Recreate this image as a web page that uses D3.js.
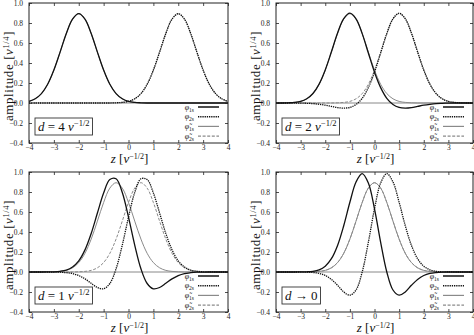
<!DOCTYPE html>
<html>
<head>
<meta charset="utf-8">
<script src="https://cdn.jsdelivr.net/npm/d3@7"></script>
<style>
  html, body { margin: 0; padding: 0; background: #fff; }
  svg { display: block; }
  text { font-family: "Liberation Serif", "DejaVu Serif", serif; fill: #111; }
</style>
</head>
<body>
<svg id="chart" width="474" height="335"></svg>
<script>
// Sample positions z [nu^-1/2]
const zGrid = [-4,-3.75,-3.5,-3.25,-3,-2.75,-2.5,-2.25,-2,-1.75,-1.5,-1.25,-1,-0.75,-0.5,-0.25,
               0,0.25,0.5,0.75,1,1.25,1.5,1.75,2,2.25,2.5,2.75,3,3.25,3.5,3.75,4];

const xTicks = [-4,-3,-2,-1,0,1,2,3,4];
const yTicks = [-0.4,-0.2,0,0.2,0.4,0.6,0.8,1.0];

// d = 4
const phi1s_d4  = [0.016,0.042,0.094,0.187,0.329,0.509,0.695,0.839,0.893,0.839,0.695,0.509,0.329,0.187,0.094,0.042,0.016,0.006,0.002,0,0,0,0,0,0,0,0,0,0,0,0,0,0];
const phi2s_d4  = [0,0,0,0,0,0,0,0,0,0,0,0,0,0,0.002,0.006,0.016,0.042,0.094,0.187,0.329,0.509,0.695,0.839,0.893,0.839,0.695,0.509,0.329,0.187,0.094,0.042,0.016];
const tphi1s_d4 = [0.016,0.042,0.094,0.187,0.329,0.509,0.695,0.839,0.893,0.839,0.695,0.509,0.329,0.187,0.094,0.042,0.016,0.006,0.002,0,0,0,0,0,0,0,0,0,0,0,0,0,0];
const tphi2s_d4 = [0,0,0,0,0,0,0,0,0,0,0,0,0,0,0.002,0.006,0.016,0.042,0.094,0.187,0.329,0.509,0.695,0.839,0.893,0.839,0.695,0.509,0.329,0.187,0.094,0.042,0.016];

// d = 2
const phi1s_d2  = [0,0,0.002,0.006,0.016,0.042,0.095,0.189,0.331,0.512,0.700,0.844,0.898,0.842,0.694,0.500,0.308,0.154,0.047,-0.015,-0.044,-0.051,-0.046,-0.034,-0.022,-0.013,-0.006,-0.003,-0.001,0,0,0,0];
const phi2s_d2  = [0,0,0,0,-0.001,-0.003,-0.006,-0.013,-0.022,-0.034,-0.046,-0.051,-0.044,-0.015,0.047,0.154,0.308,0.500,0.694,0.842,0.898,0.844,0.700,0.512,0.331,0.189,0.095,0.042,0.016,0.006,0.002,0,0];
const tphi1s_d2 = [0,0,0.002,0.006,0.016,0.042,0.094,0.187,0.329,0.509,0.695,0.839,0.893,0.839,0.695,0.509,0.329,0.187,0.094,0.042,0.016,0.006,0.002,0,0,0,0,0,0,0,0,0,0];
const tphi2s_d2 = [0,0,0,0,0,0,0,0,0,0,0.002,0.006,0.016,0.042,0.094,0.187,0.329,0.509,0.695,0.839,0.893,0.839,0.695,0.509,0.329,0.187,0.094,0.042,0.016,0.006,0.002,0,0];

// d = 1
const phi1s_d1  = [0,0,0,0.001,0.002,0.007,0.019,0.050,0.111,0.221,0.385,0.590,0.790,0.924,0.932,0.795,0.548,0.269,0.032,-0.115,-0.168,-0.155,-0.113,-0.069,-0.036,-0.016,-0.007,-0.002,-0.001,0,0,0,0];
const phi2s_d1  = [0,0,0,0,-0.001,-0.002,-0.007,-0.016,-0.036,-0.069,-0.113,-0.155,-0.168,-0.115,0.032,0.269,0.548,0.795,0.932,0.924,0.790,0.590,0.385,0.221,0.111,0.050,0.019,0.007,0.002,0.001,0,0,0];
const tphi1s_d1 = [0,0,0,0,0.002,0.006,0.016,0.042,0.094,0.187,0.329,0.509,0.695,0.839,0.893,0.839,0.695,0.509,0.329,0.187,0.094,0.042,0.016,0.006,0.002,0,0,0,0,0,0,0,0];
const tphi2s_d1 = [0,0,0,0,0,0,0,0,0.002,0.006,0.016,0.042,0.094,0.187,0.329,0.509,0.695,0.839,0.893,0.839,0.695,0.509,0.329,0.187,0.094,0.042,0.016,0.006,0.002,0,0,0,0];

// d -> 0
const phi1s_d0  = [0,0,0,0,0.001,0.002,0.007,0.022,0.058,0.133,0.266,0.463,0.697,0.900,0.984,0.890,0.632,0.297,0,-0.180,-0.232,-0.199,-0.133,-0.074,-0.035,-0.014,-0.005,-0.001,0,0,0,0,0];
const phi2s_d0  = [0,0,0,0,0,-0.001,-0.005,-0.014,-0.035,-0.074,-0.133,-0.199,-0.232,-0.180,0,0.297,0.632,0.890,0.984,0.900,0.697,0.463,0.266,0.133,0.058,0.022,0.007,0.002,0.001,0,0,0,0];
const tphi1s_d0 = [0,0,0,0,0,0,0.002,0.006,0.016,0.042,0.094,0.187,0.329,0.509,0.695,0.839,0.893,0.839,0.695,0.509,0.329,0.187,0.094,0.042,0.016,0.006,0.002,0,0,0,0,0,0];
const tphi2s_d0 = [0,0,0,0,0,0,0.002,0.006,0.016,0.042,0.094,0.187,0.329,0.509,0.695,0.839,0.893,0.839,0.695,0.509,0.329,0.187,0.094,0.042,0.016,0.006,0.002,0,0,0,0,0,0];

const legendNames = [["1s", false], ["2s", false], ["1s", true], ["2s", true]];

const styles = [
  { stroke: "#111", width: 1.3, dash: null },       // phi_1s
  { stroke: "#111", width: 1.3, dash: "1.3,0.9" },  // phi_2s
  { stroke: "#8a8a8a", width: 1.0, dash: null },    // tilde phi_1s
  { stroke: "#8a8a8a", width: 1.0, dash: "3,1.6" }  // tilde phi_2s
];

const panels = [
  { x0: 29,  x1: 228, y0: 3,   y1: 143, label: "4", series: [phi1s_d4, phi2s_d4, tphi1s_d4, tphi2s_d4] },
  { x0: 276, x1: 473, y0: 3,   y1: 143, label: "2", series: [phi1s_d2, phi2s_d2, tphi1s_d2, tphi2s_d2] },
  { x0: 29,  x1: 228, y0: 172, y1: 312, label: "1", series: [phi1s_d1, phi2s_d1, tphi1s_d1, tphi2s_d1] },
  { x0: 276, x1: 473, y0: 172, y1: 312, label: null, series: [phi1s_d0, phi2s_d0, tphi1s_d0, tphi2s_d0] }
];

const svg = d3.select("#chart");
const fmtX = v => (v < 0 ? "\u2212" : "") + Math.abs(v);
const fmtY = v => (v < -1e-9 ? "\u2212" : "") + Math.abs(v).toFixed(1);

panels.forEach(p => {
  const x = d3.scaleLinear().domain([-4, 4]).range([p.x0, p.x1]);
  const y = d3.scaleLinear().domain([-0.4, 1.0]).range([p.y1, p.y0]);
  const g = svg.append("g");

  // zero axis
  g.append("line")
    .attr("x1", x(-4)).attr("x2", x(4))
    .attr("y1", y(0)).attr("y2", y(0))
    .attr("stroke", "#888").attr("stroke-width", 1);

  // axes with inward ticks, mirrored on top and right
  const tickLen = 3;
  g.append("g").attr("transform", `translate(0,${p.y1})`)
    .call(d3.axisBottom(x).tickValues(xTicks).tickFormat(fmtX).tickSizeInner(-tickLen).tickSizeOuter(0).tickPadding(2));
  g.append("g").attr("transform", `translate(0,${p.y0})`)
    .call(d3.axisTop(x).tickValues(xTicks).tickFormat("").tickSizeInner(-tickLen).tickSizeOuter(0));
  g.append("g").attr("transform", `translate(${p.x0},0)`)
    .call(d3.axisLeft(y).tickValues(yTicks).tickFormat(fmtY).tickSizeInner(-tickLen).tickSizeOuter(0).tickPadding(6));
  g.append("g").attr("transform", `translate(${p.x1},0)`)
    .call(d3.axisRight(y).tickValues(yTicks).tickFormat("").tickSizeInner(-tickLen).tickSizeOuter(0));
  g.selectAll(".domain").remove();
  g.selectAll(".tick line").attr("stroke", "#222").attr("stroke-width", 0.8);
  g.selectAll(".tick text").style("fill", "#222")
    .attr("font-size", 7.5);

  // curves: light reference functions first, then the orthogonalised ones
  const line = d3.line()
    .x((d, i) => x(zGrid[i]))
    .y(d => y(d))
    .curve(d3.curveCatmullRom.alpha(0.5));
  [2, 3, 0, 1].forEach(k => {
    const s = styles[k];
    g.append("path")
      .attr("d", line(p.series[k]))
      .attr("fill", "none")
      .attr("stroke", s.stroke)
      .attr("stroke-width", s.width)
      .attr("stroke-dasharray", s.dash);
  });

  // frame
  g.append("rect")
    .attr("x", p.x0).attr("y", p.y0)
    .attr("width", p.x1 - p.x0).attr("height", p.y1 - p.y0)
    .attr("fill", "none").attr("stroke", "#222").attr("stroke-width", 1);

  // legend
  legendNames.forEach((nm, i) => {
    const ly = p.y0 + 104 + i * 9.7;
    const t = g.append("text")
      .attr("x", p.x1 - 34).attr("y", ly + 2.5)
      .attr("text-anchor", "end").attr("font-size", 8).attr("font-style", "italic");
    t.append("tspan").text(nm[1] ? "\u03c6\u0303" : "\u03c6");
    t.append("tspan").attr("font-size", 5.5).attr("dy", 2).attr("font-style", "normal").text(nm[0]);
    const s = styles[i];
    g.append("line")
      .attr("x1", p.x1 - 30).attr("x2", p.x1 - 9)
      .attr("y1", ly).attr("y2", ly)
      .attr("stroke", s.stroke).attr("stroke-width", s.width + 0.2)
      .attr("stroke-dasharray", s.dash);
  });

  // separation label in a box
  const boxG = g.append("g");
  const boxRect = boxG.append("rect");
  const lab = boxG.append("text")
    .attr("x", p.x0 + 9).attr("y", p.y0 + 128)
    .attr("font-size", 13);
  lab.append("tspan").attr("font-style", "italic").text("d");
  if (p.label !== null) {
    lab.append("tspan").text(" = " + p.label + " ");
    lab.append("tspan").attr("font-style", "italic").text("\u03bd");
    lab.append("tspan").attr("font-size", 8.5).attr("dy", -5).text("\u22121/2");
  } else {
    lab.append("tspan").text(" \u2192 0");
  }
  const bb = lab.node().getBBox();
  boxRect
    .attr("x", p.x0 + 6).attr("y", p.y0 + 115)
    .attr("width", bb.width + 6).attr("height", 17)
    .attr("fill", "#fff").attr("stroke", "#333").attr("stroke-width", 0.9);

  // x title
  const xt = g.append("text")
    .attr("x", (p.x0 + p.x1) / 2 + 1).attr("y", p.y1 + 19.5)
    .attr("text-anchor", "middle").attr("font-size", 13);
  xt.append("tspan").attr("font-style", "italic").text("z");
  xt.append("tspan").text(" [");
  xt.append("tspan").attr("font-style", "italic").text("\u03bd");
  xt.append("tspan").attr("font-size", 8).attr("dy", -4).text("\u22121/2");
  xt.append("tspan").attr("dy", 4).text("]");

  // y title
  const yt = g.append("text")
    .attr("transform", `translate(${p.x0 - 16},${(p.y0 + p.y1) / 2 + 3}) rotate(-90)`)
    .attr("text-anchor", "middle").attr("font-size", 13).attr("letter-spacing", 0.6);
  yt.append("tspan").text("amplitude [");
  yt.append("tspan").attr("font-style", "italic").text("\u03bd");
  yt.append("tspan").attr("font-size", 8.5).attr("dy", -4).text("1/4");
  yt.append("tspan").attr("dy", 4).text("]");
});
</script>
</body>
</html>
